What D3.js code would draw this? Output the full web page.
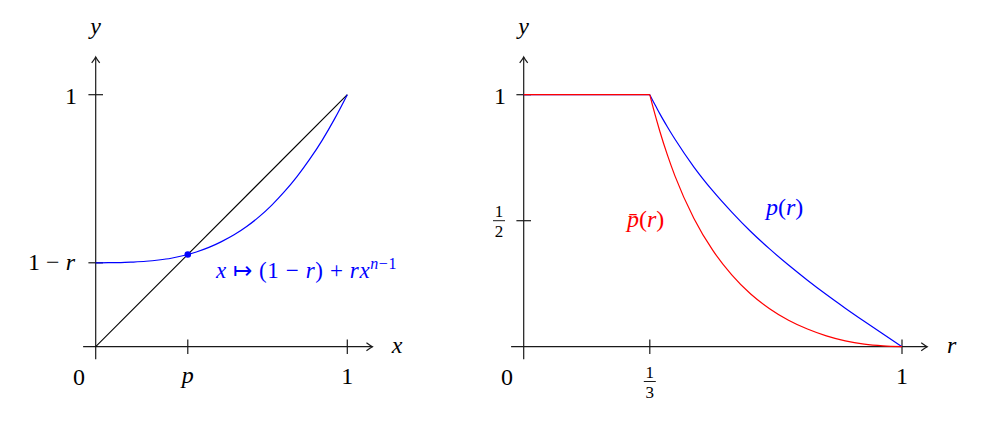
<!DOCTYPE html>
<html>
<head>
<meta charset="utf-8">
<script src="https://cdn.jsdelivr.net/npm/d3@7"></script>
</head>
<body style="margin:0">
<script>
// left panel: the map x -> (1-r) + r x^(n-1) and the diagonal
const mapX = [0, 0.05, 0.1, 0.15, 0.2, 0.25, 0.3, 0.35, 0.4, 0.45, 0.5, 0.55, 0.6, 0.65, 0.7, 0.75, 0.8, 0.85, 0.9, 0.95, 1];
const mapY = [0.333, 0.334, 0.334, 0.336, 0.339, 0.344, 0.351, 0.362, 0.376, 0.394, 0.417, 0.444, 0.477, 0.516, 0.562, 0.615, 0.675, 0.743, 0.819, 0.905, 1];
const diagX = [0, 1];
const fixedP = 0.366;
const oneMinusR = 0.333;

// right panel: p(r) and p-bar(r)
const rValues = [0, 0.3333, 0.34, 0.35, 0.36, 0.38, 0.4, 0.45, 0.5, 0.55, 0.6, 0.65, 0.7, 0.75, 0.8, 0.85, 0.9, 0.95, 1];
const pValues = [1, 1, 0.980, 0.952, 0.924, 0.872, 0.823, 0.713, 0.618, 0.534, 0.457, 0.388, 0.324, 0.264, 0.207, 0.153, 0.101, 0.050, 0];
const pBarValues = [1, 1, 0.961, 0.906, 0.854, 0.760, 0.677, 0.509, 0.382, 0.285, 0.209, 0.151, 0.105, 0.070, 0.043, 0.023, 0.010, 0.003, 0];

const width = 983, height = 422;
const blue = "#0000ff", red = "#ff0000", axisCol = "#1a1a1a";
const serif = '"Times New Roman", "Liberation Serif", serif';

const svg = d3.select("body").append("svg")
  .attr("width", width)
  .attr("height", height);

const yScale = d3.scaleLinear().domain([0, 1]).range([346.7, 94.7]);
const xLeft = d3.scaleLinear().domain([0, 1]).range([95.7, 347.3]);
const xRight = d3.scaleLinear().domain([0, 1]).range([523.7, 902]);

// axes with tikz style arrow heads
function drawAxes(x, xEnd, xStart) {
  const g = svg.append("g").attr("stroke", axisCol).attr("stroke-width", 1.2).attr("fill", "none");
  const y0 = yScale(0), x0 = x(0);
  const xe = x(xEnd), ye = yScale(1.15);
  g.append("line").attr("x1", x(xStart)).attr("x2", xe).attr("y1", y0).attr("y2", y0);
  g.append("line").attr("x1", x0).attr("x2", x0).attr("y1", yScale(-0.05)).attr("y2", ye);
  g.append("path").attr("d", `M${xe - 6},${y0 - 4} Q${xe - 2},${y0 - 1} ${xe},${y0} Q${xe - 2},${y0 + 1} ${xe - 6},${y0 + 4}`);
  g.append("path").attr("d", `M${x0 - 4},${ye + 6} Q${x0 - 1},${ye + 2} ${x0},${ye} Q${x0 + 1},${ye + 2} ${x0 + 4},${ye + 6}`);
  return g;
}

function ticks(g, x, xt, yt) {
  g.selectAll(".xt").data(xt).join("line").attr("class", "xt")
    .attr("x1", d => x(d)).attr("x2", d => x(d))
    .attr("y1", yScale(0) - 7.3).attr("y2", yScale(0) + 7.3);
  g.selectAll(".yt").data(yt).join("line").attr("class", "yt")
    .attr("y1", d => yScale(d)).attr("y2", d => yScale(d))
    .attr("x1", x(0) - 7.3).attr("x2", x(0) + 7.3);
}

// labels: plain text, italic pieces in tspans (math style)
function label(html, x, y, opts = {}) {
  return svg.append("text")
    .attr("x", x).attr("y", y)
    .attr("font-family", serif)
    .attr("text-anchor", opts.anchor || "middle")
    .attr("font-size", opts.size || 24)
    .attr("fill", opts.color || "#000")
    .html(html);
}
const it = s => `<tspan font-style="italic">${s}</tspan>`;

function fraction(num, den, x, yBar, size) {
  label(num, x, yBar - 3.5, { size: size });
  label(den, x, yBar + 16.5, { size: size });
  svg.append("line").attr("x1", x - 6).attr("x2", x + 6).attr("y1", yBar).attr("y2", yBar)
    .attr("stroke", "#000").attr("stroke-width", 0.9);
}

// ---------- left panel ----------
const gl = drawAxes(xLeft, 1.1, -0.05);
ticks(gl, xLeft, [fixedP, 1], [oneMinusR, 1]);

svg.append("path")
  .datum(diagX)
  .attr("d", d3.line().x(d => xLeft(d)).y(d => yScale(d)))
  .attr("stroke", "#000").attr("stroke-width", 1.1).attr("fill", "none");

svg.append("path")
  .datum(d3.zip(mapX, mapY))
  .attr("d", d3.line().x(d => xLeft(d[0])).y(d => yScale(d[1])).curve(d3.curveMonotoneX))
  .attr("stroke", blue).attr("stroke-width", 1.2).attr("fill", "none");

svg.append("circle")
  .attr("cx", xLeft(fixedP)).attr("cy", yScale(fixedP)).attr("r", 3.3)
  .attr("fill", blue);

label("0", 79, 385);
label(it("p"), xLeft(fixedP), 383);
label("1", xLeft(1), 384);
label(it("x"), 397, 352.7);
label(it("y"), xLeft(0), 34);
label("1", 77, 103.5, { anchor: "end" });
label("1 − " + it("r"), 75, 269.5, { anchor: "end" });
label(it("x") + " ↦ (1 − " + it("r") + ") + " + it("rx") +
  `<tspan font-style="italic" font-size="16" dy="-9">n</tspan><tspan font-size="16">−1</tspan>`,
  216, 278, { anchor: "start", size: 23, color: blue })
  .attr("letter-spacing", 0.6);

// ---------- right panel ----------
const gr = drawAxes(xRight, 1.0667, -0.0333);
ticks(gr, xRight, [1 / 3, 1], [0.5, 1]);

const rows = rValues.map((r, i) => ({ r: r, p: pValues[i], pb: pBarValues[i] }));
const flat = rows.filter(d => d.r <= 1 / 3 + 1e-6);
const falling = rows.filter(d => d.r >= 1 / 3 - 1e-3);

function curve(key, color) {
  svg.append("path")
    .datum(flat)
    .attr("d", d3.line().x(d => xRight(d.r)).y(d => yScale(d[key])))
    .attr("stroke", color).attr("stroke-width", 1.2).attr("fill", "none");
  svg.append("path")
    .datum(falling)
    .attr("d", d3.line().x(d => xRight(d.r)).y(d => yScale(d[key])).curve(d3.curveMonotoneX))
    .attr("stroke", color).attr("stroke-width", 1.2).attr("fill", "none");
}
curve("p", blue);
curve("pb", red);

label("0", 507, 385);
fraction("1", "3", xRight(1 / 3), 381.5, 17);
label("1", xRight(1), 384);
label(it("r"), 951.7, 352.7);
label(it("y"), xRight(0), 34);
label("1", 506, 103.5, { anchor: "end" });
fraction("1", "2", 499, 220.7, 17);

label(it("p") + "(" + it("r") + ")", 766, 215, { anchor: "start", color: blue });
label(it("p̄") + "(" + it("r") + ")", 627, 227, { anchor: "start", color: red });
</script>
</body>
</html>
